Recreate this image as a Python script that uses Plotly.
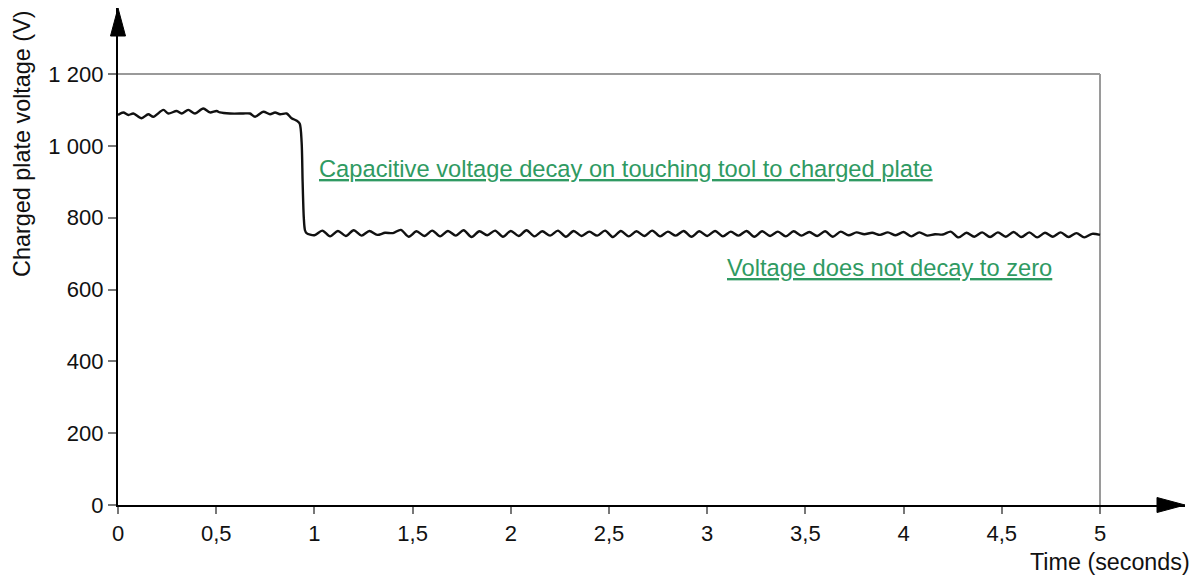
import plotly.graph_objects as go

# Plate voltage before the tool touches the plate
t_high = [0.0, 0.027, 0.053, 0.078, 0.12, 0.154, 0.18, 0.231, 0.256, 0.299,
          0.324, 0.358, 0.392, 0.434, 0.468, 0.502, 0.519, 0.57, 0.638, 0.672,
          0.698, 0.74, 0.774, 0.8, 0.825, 0.859, 0.884, 0.91, 0.925, 0.935,
          0.94, 0.946, 0.952]
v_high = [1086, 1093, 1086, 1090, 1077, 1088, 1081, 1100, 1090, 1097,
          1090, 1100, 1090, 1104, 1093, 1097, 1093, 1090, 1090, 1090,
          1081, 1095, 1088, 1093, 1088, 1090, 1077, 1070, 1062, 1010,
          900, 800, 765]

# Plate voltage after contact
t_low = [0.96, 1.00, 1.04, 1.08, 1.12, 1.16, 1.20, 1.24, 1.28, 1.32,
         1.36, 1.40, 1.44, 1.48, 1.52, 1.56, 1.60, 1.64, 1.68, 1.72,
         1.76, 1.80, 1.84, 1.88, 1.92, 1.96, 2.00, 2.04, 2.08, 2.12,
         2.16, 2.20, 2.24, 2.28, 2.32, 2.36, 2.40, 2.44, 2.48, 2.52,
         2.56, 2.60, 2.64, 2.68, 2.72, 2.76, 2.80, 2.84, 2.88, 2.92,
         2.96, 3.00, 3.04, 3.08, 3.12, 3.16, 3.20, 3.24, 3.28, 3.32,
         3.36, 3.40, 3.44, 3.48, 3.52, 3.56, 3.60, 3.64, 3.68, 3.72,
         3.76, 3.80, 3.84, 3.88, 3.92, 3.96, 4.00, 4.04, 4.08, 4.12,
         4.16, 4.20, 4.24, 4.28, 4.32, 4.36, 4.40, 4.44, 4.48, 4.52,
         4.56, 4.60, 4.64, 4.68, 4.72, 4.76, 4.80, 4.84, 4.88, 4.92,
         4.96, 5.00]
v_low = [757, 751, 764, 748, 763, 749, 765, 750, 763, 752,
         758, 757, 766, 747, 762, 749, 764, 748, 763, 750,
         765, 746, 762, 751, 764, 747, 763, 749, 765, 748,
         762, 750, 764, 747, 763, 749, 761, 750, 764, 746,
         763, 748, 762, 749, 764, 748, 761, 750, 763, 747,
         762, 749, 763, 748, 761, 750, 763, 747, 762, 749,
         761, 748, 762, 750, 760, 749, 762, 747, 761, 751,
         759, 754, 758, 752, 759, 751, 760, 748, 759, 750,
         754, 753, 761, 745, 758, 747, 759, 746, 759, 747,
         760, 746, 759, 745, 758, 747, 759, 746, 757, 745,
         755, 752]

x_ticks = [0, 0.5, 1, 1.5, 2, 2.5, 3, 3.5, 4, 4.5, 5]
x_tick_text = ["0", "0,5", "1", "1,5", "2", "2,5", "3", "3,5", "4", "4,5", "5"]
y_ticks = [0, 200, 400, 600, 800, 1000, 1200]
y_tick_text = ["0", "200", "400", "600", "800", "1 000", "1 200"]

FONT = "Liberation Sans, Arial, sans-serif"
GREEN = "#2f9a62"
FRAME = "#9a9a9a"
TEXT = "#111111"

t = t_high + t_low
v = v_high + v_low

W, H = 1201, 576
L, R, T, B = 118, 16, 8, 71
PW, PH = W - L - R, H - T - B
px_per_s = 196.4
px_per_v = 431 / 1200

fig = go.Figure()
fig.add_trace(go.Scatter(
    x=t, y=v, mode="lines",
    line=dict(color=TEXT, width=2.4, shape="spline", smoothing=0.8),
    hoverinfo="skip", showlegend=False,
))

# Grey frame along the top (1 200 V) and the right (5 s)
fig.add_shape(type="line", x0=0, x1=5, y0=1200, y1=1200, xref="x", yref="y",
              line=dict(color=FRAME, width=2), layer="below")
fig.add_shape(type="line", x0=5, x1=5, y0=0, y1=1200, xref="x", yref="y",
              line=dict(color=FRAME, width=2), layer="below")

# Arrowheads at the ends of both axes (paper coordinates)
hw, hl = 7.5, 28  # half-width and length in pixels
fig.add_shape(type="path", xref="paper", yref="paper",
              path=f"M {-hw / PW},{1 - hl / PH} L {hw / PW},{1 - hl / PH} L 0,1 Z",
              fillcolor="black", line=dict(color="black", width=1))
fig.add_shape(type="path", xref="paper", yref="paper",
              path=f"M {1 - hl / PW},{-hw / PH} L {1 - hl / PW},{hw / PH} L 1,0 Z",
              fillcolor="black", line=dict(color="black", width=1))

ann_font = dict(family=FONT, size=23.7, color=GREEN)
fig.add_annotation(
    x=1.015, y=935, xref="x", yref="y", xanchor="left", yanchor="middle",
    text="<span style='text-decoration:underline'>Capacitive voltage decay on touching tool to charged plate</span>",
    showarrow=False, font=ann_font)
fig.add_annotation(
    x=3.093, y=660, xref="x", yref="y", xanchor="left", yanchor="middle",
    text="<span style='text-decoration:underline'>Voltage does not decay to zero</span>",
    showarrow=False, font=ann_font)

# Axis titles
fig.add_annotation(
    x=1 + 7 / PW, y=-57 / PH, xref="paper", yref="paper", xanchor="right", yanchor="middle",
    text="Time (seconds)", showarrow=False,
    font=dict(family=FONT, size=23.3, color=TEXT))
fig.add_annotation(
    x=-96 / PW, y=1 - 136 / PH, xref="paper", yref="paper", xanchor="center", yanchor="middle",
    text="Charged plate voltage (V)", textangle=-90, showarrow=False,
    font=dict(family=FONT, size=23.4, color=TEXT))

fig.update_layout(
    width=W, height=H,
    margin=dict(l=L, r=R, t=T, b=B),
    paper_bgcolor="white", plot_bgcolor="white",
    font=dict(family=FONT, size=22, color=TEXT),
    xaxis=dict(
        range=[0, PW / px_per_s],
        tickvals=x_ticks, ticktext=x_tick_text,
        showgrid=False, zeroline=False,
        showline=True, linecolor="black", linewidth=2.4,
        ticks="outside", ticklen=7, tickwidth=1.5, tickcolor="#777777",
        tickfont=dict(family=FONT, size=22, color=TEXT),
        fixedrange=True,
    ),
    yaxis=dict(
        range=[0, PH / px_per_v],
        tickvals=y_ticks, ticktext=y_tick_text,
        showgrid=False, zeroline=False,
        showline=True, linecolor="black", linewidth=2.4,
        ticks="outside", ticklen=8, tickwidth=1.5, tickcolor="#777777",
        tickfont=dict(family=FONT, size=22, color=TEXT),
        fixedrange=True,
    ),
)

fig.write_html("out.html")
